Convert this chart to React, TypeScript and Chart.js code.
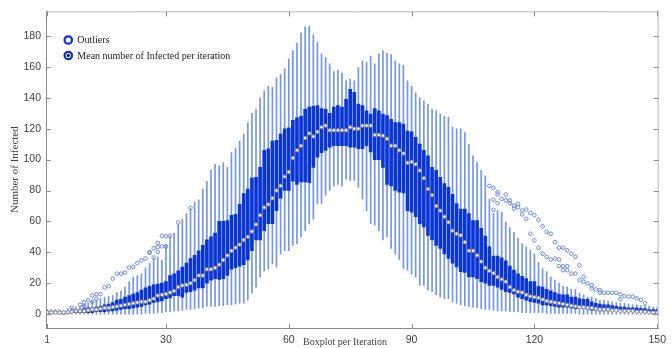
import React, { useEffect, useRef } from 'react';
import { Chart, registerables } from 'chart.js';

Chart.register(...registerables);

// ---------- data ----------
const iterations: number[] = Array.from({ length: 150 }, (_, k) => k + 1);

const meanValues = [
  1, 1, 1, 1, 1, 1.2, 1.5, 2, 2, 2,
  2.5, 3, 3, 3.5, 4, 4, 4.5, 5, 5.5, 6,
  6.5, 7, 7.5, 8, 8, 9, 10, 12, 12.5, 13,
  14, 15, 17.5, 18.5, 19, 20, 22, 25, 25, 29,
  29, 30, 32, 35, 38, 41, 43, 45, 48, 50,
  53.5, 58, 64, 69, 71, 75, 80, 83, 89, 92,
  101, 106, 109, 114, 117, 115, 118, 121, 122, 119,
  119, 119, 119, 119, 121, 120, 120, 122, 122, 122,
  116, 116, 115.5, 113.5, 109, 109, 106, 104, 98, 98.5,
  97, 93, 88, 81, 77, 70, 67, 63, 59.5, 54,
  52, 51, 46.5, 41, 41, 38, 34, 30, 28, 26.5,
  24, 22.5, 21, 17.5, 15.5, 14.5, 14, 12.5, 11.5, 11,
  10.5, 9.5, 8.5, 8, 7.5, 7, 6.5, 6, 5.5, 5,
  4.5, 4.5, 4, 4, 3.5, 3, 3, 3, 2.5, 2.5,
  2, 2, 2, 2, 1.5, 1.5, 1.5, 1, 1, 1,
];

const q1Values = [
  0.5, 0.5, 0.5, 0.5, 0, 0.5, 1, 1, 1, 1,
  1, 1, 1.5, 1.5, 1.5, 2, 2, 2.5, 3, 3.5,
  3.5, 4, 4.5, 5, 6, 6.5, 7.5, 8, 8.5, 10,
  10.5, 12, 12, 11, 14, 14.5, 15.5, 17, 17, 20,
  22, 23, 22.5, 23, 25, 29, 30, 31, 32, 35,
  41, 48, 48, 54, 58.5, 58.5, 67, 75, 80, 80,
  86, 84, 85.5, 85.5, 85, 95, 101.5, 104.5, 106, 108,
  109, 109, 109, 109, 108, 108, 107, 107, 109, 105,
  100, 100, 95, 84, 83, 80, 79, 78.5, 67, 66,
  63, 58.5, 56.5, 51, 48, 44.5, 42.5, 39, 36, 33,
  30.5, 27.5, 27, 24, 24, 23, 21, 20, 18.5, 18.5,
  17.5, 16, 14.5, 14, 13, 11, 10, 9, 8, 7.5,
  7, 6, 6, 5.5, 5, 4.5, 4.5, 4.5, 4, 3.5,
  3.5, 3.5, 3, 2.5, 2.5, 2, 2, 2, 2, 2,
  1.5, 1.5, 1.5, 1.5, 1, 1, 1, 1, 0.5, 0.5,
];

const q3Values = [
  2, 2, 2, 2, 1.5, 2, 2.5, 3, 3, 3.5,
  4, 4, 4.5, 5, 6, 6.5, 7.5, 9, 9.5, 11,
  12, 13, 14, 15.5, 17, 18, 19, 19.5, 20, 21,
  25, 26, 28, 30.5, 33, 36, 38, 41, 44.5, 48,
  50, 52.5, 60, 60, 60.5, 64, 64.5, 71, 78, 81,
  88, 88.5, 95, 106, 107, 112, 112.5, 116.5, 120, 120.5,
  125.5, 127, 128, 132.5, 134, 134.5, 135, 133, 132.5, 130,
  134, 135, 134, 139, 145.5, 143.5, 136, 135, 131.5, 129.5,
  133, 131.5, 129.5, 128.5, 126, 124, 124, 123, 118.5, 118,
  114.5, 110, 106, 102.5, 95, 93, 88.5, 84.5, 82, 77.5,
  71.5, 68, 68, 65, 60.5, 60.5, 55.5, 50.5, 43.5, 37.5,
  37.5, 36.5, 34.5, 31, 28.5, 26, 24.5, 23, 21, 21,
  18, 17.5, 16, 15, 14, 13, 12.5, 12.5, 11, 11,
  10, 9.5, 9.5, 8, 7, 6.5, 6, 6, 5.5, 5,
  4.5, 4.5, 4, 4, 4, 3.5, 3.5, 3, 3, 3,
];

const whiskerLow = [
  0, 0, 0, 0, 0, 0, 0, 0, 0, 0,
  0, 0, 0, 0, 0, 0, 0, 0, 0, 0,
  0, 0, 0, 0, 0.5, 0.5, 0.5, 1, 1, 1.5,
  1.5, 2, 2, 2.5, 3, 3, 3.5, 4, 4, 5,
  5, 5, 5.5, 5.5, 6, 6, 6.5, 7, 7, 9,
  13.5, 17.5, 24, 28, 29, 32.5, 30.5, 39, 41, 41,
  44.5, 45.5, 50, 54, 58.5, 61.5, 71.5, 71.5, 77, 80,
  83, 84, 83, 87.5, 86.5, 86.5, 82, 74.5, 67, 58.5,
  57.5, 54, 48, 50, 42.5, 39, 35, 29.5, 28.5, 26,
  24, 18.5, 18.5, 15.5, 14.5, 12.5, 11, 10, 10, 8,
  7, 6, 5.5, 5, 4.5, 4, 3.5, 3, 3, 2.5,
  2, 2, 2, 1.5, 1.5, 1.5, 1, 1, 1, 1,
  1, 1, 0.5, 0.5, 0.5, 0.5, 0.5, 0.5, 0.5, 0.5,
  0, 0, 0, 0, 0, 0, 0, 0, 0, 0,
  0, 0, 0, 0, 0, 0, 0, 0, 0, 0,
];

const whiskerHigh = [
  3, 3, 3, 3, 2.5, 3.5, 4, 4.5, 5, 6,
  7, 8.5, 9, 10, 11, 11.5, 12, 14, 15, 17.5,
  21, 24, 25, 26, 30, 33, 36, 37, 35, 45,
  50, 52.5, 58, 61.5, 65, 68, 72.5, 74, 81, 86,
  93, 97, 96, 98, 95, 104.5, 107.5, 112, 116.5, 124,
  130, 132.5, 140, 144.5, 147.5, 147, 153, 155, 159, 165,
  170.5, 175.5, 182, 186, 186.5, 181, 176, 168.5, 166, 162,
  157, 158, 156, 151, 152, 151, 159.5, 164, 163, 167,
  162, 168.5, 170.5, 169, 168, 164, 162, 161, 151, 147.5,
  143, 140, 138, 136, 132.5, 131.5, 129.5, 128, 127.5, 121,
  120, 120, 117.5, 110, 102.5, 98, 93, 89.5, 74.5, 65,
  67, 66, 59.5, 56, 53, 49, 45.5, 43.5, 41.5, 39,
  33.5, 29.5, 27.5, 24, 22, 20, 18, 17.5, 16, 16,
  13.5, 12.5, 11, 11, 10, 9, 9, 8.5, 8, 7.5,
  7, 7, 6.5, 6, 6, 5.5, 5.5, 5, 4.5, 4.5,
];

const outlierIter = [
  7, 9, 10, 10, 11, 12, 12, 13, 13, 14, 15, 16, 17, 18, 19, 20, 21, 22, 23, 24,
  25, 26, 26, 27, 27, 28, 28, 28, 29, 29, 30, 30, 31, 33, 36,
  109, 110, 110, 110, 111, 111, 111, 112, 113, 113, 114, 114, 115, 115, 116, 116,
  117, 117, 118, 118, 119, 119, 120, 120, 121, 121, 122, 122, 123, 123, 124, 124,
  125, 125, 126, 126, 126, 127, 127, 127, 128, 128, 128, 129, 129, 130, 130,
  131, 131, 132, 132, 133, 134, 134, 135, 136, 136, 137, 138, 139, 140,
  141, 141, 142, 143, 144, 145, 146, 147,
];

const outlierValue = [
  4.1, 6, 7.7, 5.2, 9, 12, 8, 12.9, 9.9, 12.9, 17.2, 18.1, 23, 26.2, 26.2, 26.9, 30.1, 30.5, 33, 34.8,
  36, 39.6, 40.2, 42.6, 36.6, 46, 43.4, 40.2, 50.7, 43.8, 50.3, 43.8, 50.7, 59.3, 68.8,
  83, 81.7, 74, 67.5, 78.9, 77.4, 71.8, 74.6, 77.4, 73.6, 73.6, 71.8, 70.3, 68.2, 71.4, 69.2,
  67.1, 64.5, 67.7, 61.7, 65.4, 52, 64.1, 47.7, 61.1, 43, 56.8, 39.1, 53.2, 37, 52, 35.3,
  46.6, 35.9, 43, 35.3, 31, 43, 31, 28.4, 41.3, 31, 28.4, 39.1, 26.2, 37, 26.2,
  31.6, 22, 24.1, 20.9, 19.8, 18.7, 16.6, 16, 15.5, 13.8, 13.8, 13.8, 13.8, 13.8,
  12.8, 9.6, 11.7, 11.3, 11.3, 10.2, 9.2, 7,
];

const xTickValues = [1, 30, 60, 90, 120, 150];
const yTickValues = [0, 20, 40, 60, 80, 100, 120, 140, 160, 180];
const legendLabels = ['Outliers', 'Mean number of Infected per iteration'];
const xTitle = 'Boxplot per Iteration';
const yTitle = 'Number of Infected';

// ---------- styles ----------
const SANS = '"Liberation Sans", Arial, sans-serif';
const SERIF = '"Liberation Serif", "Times New Roman", serif';

const framePlugin = {
  id: 'matlabFrame',
  afterDraw(chart: any) {
    const { ctx, chartArea } = chart;
    const { left, right, top, bottom } = chartArea;
    const xs = chart.scales.x;
    const ys = chart.scales.y;
    ctx.save();
    ctx.lineWidth = 1;
    // top & right box lines
    ctx.strokeStyle = '#b8b8b8';
    ctx.beginPath();
    ctx.moveTo(left, top + 0.5);
    ctx.lineTo(right + 1, top + 0.5);
    ctx.moveTo(right + 0.5, top);
    ctx.lineTo(right + 0.5, bottom + 1);
    ctx.stroke();
    // left & bottom axes
    ctx.strokeStyle = '#8a8a8a';
    ctx.beginPath();
    ctx.moveTo(left + 0.5, top);
    ctx.lineTo(left + 0.5, bottom + 1);
    ctx.moveTo(left, bottom + 0.5);
    ctx.lineTo(right + 1, bottom + 0.5);
    ctx.stroke();
    // inward ticks
    const tl = 5;
    ctx.beginPath();
    yTickValues.forEach((v) => {
      const py = Math.round(ys.getPixelForValue(v)) + 0.5;
      ctx.moveTo(left, py);
      ctx.lineTo(left + tl, py);
      ctx.moveTo(right + 1, py);
      ctx.lineTo(right + 1 - tl, py);
    });
    xTickValues.forEach((v) => {
      const px = Math.round(xs.getPixelForValue(v)) + 0.5;
      ctx.moveTo(px, bottom + 1);
      ctx.lineTo(px, bottom + 1 - tl);
      ctx.moveTo(px, top);
      ctx.lineTo(px, top + tl);
    });
    ctx.strokeStyle = '#8a8a8a';
    ctx.stroke();

    // x-axis title
    ctx.font = `10px ${SERIF}`;
    ctx.fillStyle = '#404040';
    ctx.textAlign = 'center';
    ctx.textBaseline = 'middle';
    ctx.fillText(xTitle, 345, 342);

    // legend
    const lx = 68.3;
    const rows = [40, 55.5];
    ctx.lineWidth = 2.3;
    ctx.strokeStyle = '#0a33e0';
    rows.forEach((ry, k) => {
      ctx.beginPath();
      ctx.arc(lx, ry, 3.7, 0, Math.PI * 2);
      ctx.fillStyle = '#ffffff';
      ctx.fill();
      ctx.stroke();
      if (k === 1) {
        ctx.beginPath();
        ctx.arc(lx, ry, 1.5, 0, Math.PI * 2);
        ctx.fillStyle = '#000000';
        ctx.fill();
      }
      ctx.font = `10px ${SERIF}`;
      ctx.fillStyle = '#222222';
      ctx.textAlign = 'left';
      ctx.textBaseline = 'middle';
      ctx.fillText(legendLabels[k], 77.3, ry + 0.5);
    });
    ctx.restore();
  },
};

export default function App() {
  const canvasRef = useRef<HTMLCanvasElement | null>(null);

  useEffect(() => {
    const canvas = canvasRef.current;
    if (!canvas) return;

    const whiskerData = iterations.map((it, k) => ({ x: it, y: [whiskerLow[k], whiskerHigh[k]] }));
    const boxData = iterations.map((it, k) => ({ x: it, y: [q1Values[k], q3Values[k]] }));
    const meanData = iterations.map((it, k) => ({ x: it, y: meanValues[k] }));
    const outlierData = outlierIter.map((it, k) => ({ x: it, y: outlierValue[k] }));

    const chart = new Chart(canvas, {
      type: 'bar',
      data: {
        datasets: [
          {
            type: 'scatter',
            label: legendLabels[0],
            data: outlierData,
            pointRadius: 1.8,
            pointBorderWidth: 0.9,
            pointBorderColor: '#5a7cf0',
            pointBackgroundColor: 'rgba(255,255,255,0)',
            order: 0,
          } as any,
          {
            type: 'scatter',
            label: legendLabels[1],
            data: meanData,
            pointRadius: 1.7,
            pointBorderWidth: 0.8,
            pointBorderColor: '#888888',
            pointBackgroundColor: '#f4f4f4',
            order: 1,
          } as any,
          {
            type: 'bar',
            label: 'Box',
            data: boxData as any,
            backgroundColor: '#0a35d6',
            borderWidth: 0,
            barThickness: 3,
            maxBarThickness: 3,
            grouped: false,
            order: 2,
          } as any,
          {
            type: 'bar',
            label: 'Whisker',
            data: whiskerData as any,
            backgroundColor: '#7294f4',
            borderWidth: 0,
            barThickness: 1,
            maxBarThickness: 1,
            grouped: false,
            order: 3,
          } as any,
        ],
      },
      options: {
        animation: false,
        responsive: false,
        devicePixelRatio: 1,
        events: [],
        layout: { padding: { left: 0, right: 9, top: 10, bottom: 0 } },
        plugins: {
          legend: { display: false },
          tooltip: { enabled: false },
          title: { display: false },
        },
        scales: {
          x: {
            type: 'linear',
            min: 0.7,
            max: 150.1,
            offset: false,
            grid: { display: false, drawTicks: false, tickLength: 0 },
            border: { display: false },
            ticks: {
              autoSkip: false,
              maxRotation: 0,
              padding: 6,
              color: '#404040',
              font: { family: SANS, size: 10.5 },
              callback: (v: any) => String(v),
            },
            afterBuildTicks: (s: any) => {
              s.ticks = xTickValues.map((v) => ({ value: v }));
            },
            afterFit: (s: any) => {
              s.height = 20;
            },
          },
          y: {
            type: 'linear',
            min: -9,
            max: 196,
            grid: { display: false, drawTicks: false, tickLength: 0 },
            border: { display: false },
            ticks: {
              padding: 5,
              color: '#404040',
              font: { family: SANS, size: 10.5 },
              callback: (v: any) => String(v),
            },
            afterBuildTicks: (s: any) => {
              s.ticks = yTickValues.map((v) => ({ value: v }));
            },
            afterFit: (s: any) => {
              s.width = 46;
            },
            title: {
              display: true,
              text: yTitle,
              color: '#404040',
              font: { family: SERIF, size: 11 },
              padding: { top: 9, bottom: 0 },
            },
          },
        },
      } as any,
      plugins: [framePlugin],
    });

    return () => chart.destroy();
  }, []);

  return (
    <div style={{ position: 'fixed', left: 0, top: 0, width: 672, height: 348, background: '#ffffff' }}>
      <canvas ref={canvasRef} width={672} height={348} style={{ display: 'block', width: 672, height: 348 }} />
    </div>
  );
}
